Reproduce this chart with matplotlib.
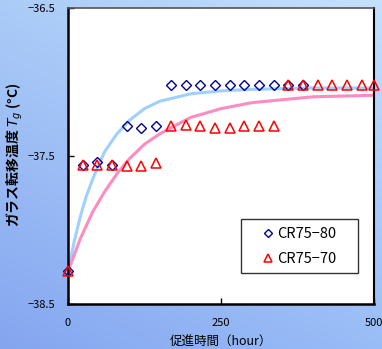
import numpy as np
import matplotlib
matplotlib.use('Agg')
import matplotlib.pyplot as plt
from matplotlib.legend_handler import HandlerLine2D

plt.rcParams['font.family'] = ['Noto Sans CJK JP', 'DejaVu Sans']
plt.rcParams['axes.unicode_minus'] = True

# 測定データ (読み取り値)
t80 = [0, 24, 48, 72, 96, 120, 144, 168, 192, 216, 240, 264, 288, 312, 336, 360, 384]
tg80 = [-38.28, -37.56, -37.54, -37.56, -37.30, -37.31, -37.30,
        -37.02, -37.02, -37.02, -37.02, -37.02, -37.02, -37.02, -37.02, -37.02, -37.02]

t70 = [0, 24, 48, 72, 96, 120, 144, 168, 192, 216, 240, 264, 288, 312, 336,
       360, 384, 408, 432, 456, 480, 500]
tg70 = [-38.28, -37.56, -37.56, -37.56, -37.57, -37.57, -37.55,
        -37.30, -37.29, -37.30, -37.31, -37.31, -37.30, -37.30, -37.30,
        -37.02, -37.02, -37.02, -37.02, -37.02, -37.02, -37.02]

# 近似曲線
tc = [0, 10, 20, 30, 40, 50, 60, 80, 100, 125, 150, 200, 250, 300, 400, 500]
fit80 = [-38.28, -38.08, -37.91, -37.77, -37.66, -37.56, -37.47, -37.35, -37.26,
         -37.18, -37.13, -37.08, -37.06, -37.05, -37.04, -37.04]
fit70 = [-38.28, -38.17, -38.06, -37.97, -37.88, -37.81, -37.74, -37.62, -37.52,
         -37.42, -37.35, -37.24, -37.18, -37.14, -37.10, -37.09]

fig = plt.figure(figsize=(3.82, 3.49), dpi=100)

# 背景グラデーション
bg = fig.add_axes([0, 0, 1, 1], zorder=-10)
xx, yy = np.meshgrid(np.linspace(0, 1, 200), np.linspace(0, 1, 200))
tl = np.array([0.67, 0.80, 0.97])
tr = np.array([0.77, 0.88, 1.00])
bl = np.array([0.52, 0.65, 0.94])
br = np.array([0.60, 0.74, 0.97])
top = tl + (tr - tl) * xx[..., None]
bot = bl + (br - bl) * xx[..., None]
img = top + (bot - top) * yy[..., None]
bg.imshow(img, aspect='auto', extent=[0, 1, 0, 1], origin='upper')
bg.axis('off')

ax = fig.add_axes([68 / 382, 45 / 349, 306 / 382, 296 / 349])
ax.set_facecolor('white')

ax.plot(tc, fit80, color='#a0d0ff', lw=2.2, zorder=2)
ax.plot(tc, fit70, color='#ff8cc0', lw=2.2, zorder=2)
ax.plot(t80, tg80, ls='none', marker='D', ms=5.2, mfc='none', mec='#000099',
        mew=1.0, label='CR75−80', clip_on=False, zorder=3)
ax.plot(t70, tg70, ls='none', marker='^', ms=7.5, mfc='none', mec='#ff0000',
        mew=1.1, label='CR75−70', clip_on=False, zorder=4)

ax.set_xlim(0, 500)
ax.set_ylim(-38.5, -36.5)
ax.set_xticks([0, 250, 500])
ax.set_yticks([-38.5, -37.5, -36.5])
ax.tick_params(direction='in', length=4, width=1, labelsize=8)
ax.tick_params(axis='x', pad=10)
ax.tick_params(axis='y', pad=9)

for s in ['left', 'bottom']:
    ax.spines[s].set_linewidth(1.8)
    ax.spines[s].set_color('black')
ax.spines['right'].set_linewidth(1.5)
ax.spines['right'].set_color('black')
ax.spines['top'].set_linewidth(1.2)
ax.spines['top'].set_color('#555555')

ax.set_xlabel('促進時間（hour）', fontsize=9, labelpad=6)
fig.text(15 / 382, 1 - 155 / 349, 'ガラス転移温度 $T_g$ (°C)', rotation=90,
         ha='center', va='center', fontsize=10, fontweight='bold')

leg = ax.legend(loc='lower left', bbox_to_anchor=(0.565, 0.105, 0.382, 0.182),
                mode='expand', borderaxespad=0, fontsize=10.5,
                frameon=True, fancybox=False, framealpha=1, edgecolor='#333333',
                labelspacing=0.75, handlelength=1.8, handletextpad=0.2,
                borderpad=0.5, markerscale=0.75,
                handler_map={ax.lines[2]: HandlerLine2D(xpad=0.9),
                             ax.lines[3]: HandlerLine2D(xpad=0.9)})
leg.get_frame().set_linewidth(1.0)

fig.savefig('out.png', dpi=100)
